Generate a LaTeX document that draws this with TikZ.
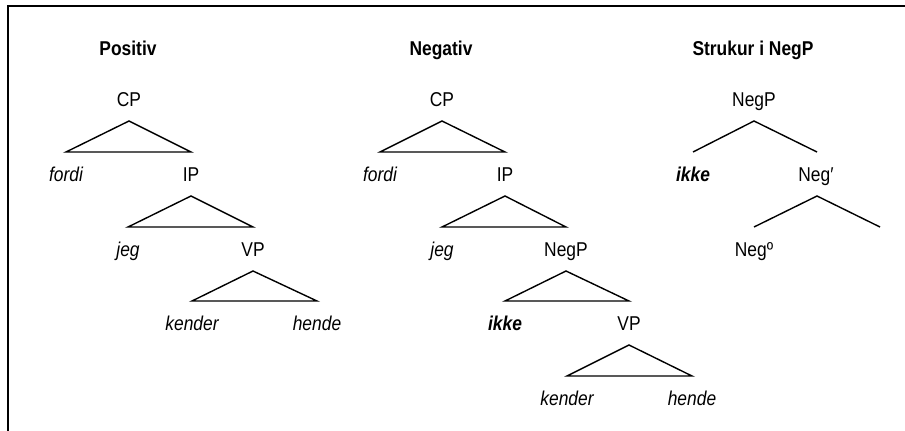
\documentclass[tikz,border=0pt]{standalone}
\usepackage{fontspec}
\setmainfont{Liberation Sans}[FakeStretch=0.87]
\usetikzlibrary{calc}
\tikzset{
  lbl/.style={anchor=base, inner sep=0pt, outer sep=0pt, text height=14pt, text depth=4pt, font=\fontsize{20}{24}\selectfont},
  ttl/.style={lbl, font=\fontsize{20}{24}\selectfont\bfseries},
  wrd/.style={lbl, font=\fontsize{20}{24}\selectfont\itshape},
  neg/.style={lbl, font=\fontsize{20}{24}\selectfont\bfseries\itshape},
  tri/.style={line width=1.4pt, line join=miter},
  frm/.style={line width=2.3pt}
}
\begin{document}
\begin{tikzpicture}[x=1pt,y=-1pt]
\useasboundingbox (0,0) rectangle (905,431);
\coordinate (fbl) at (8,431);
\coordinate (ftl) at (8,6);
\coordinate (ftr) at (906,6);
\draw[frm] (fbl) -- (ftl) -- (ftr);

% Positiv
\node[ttl] (t1) at (128,55) {Positiv};
\node[lbl] (cp1) at (129,106) {CP};
\node[wrd] (fordi1) at (66,181) {fordi};
\node[lbl] (ip1) at (191,181) {IP};
\node[wrd] (jeg1) at (128,256) {jeg};
\node[lbl] (vp1) at (253,256) {VP};
\node[wrd] (kender1) at (192,330) {kender};
\node[wrd] (hende1) at (317,330) {hende};
\draw[tri] ([yshift=-11pt]cp1.south) -- ([yshift=15pt]fordi1.north) -- ([yshift=15pt]ip1.north) -- cycle;
\draw[tri] ([yshift=-11pt]ip1.south) -- ([yshift=15pt]jeg1.north) -- ([yshift=15pt]vp1.north) -- cycle;
\draw[tri] ([yshift=-11pt]vp1.south) -- ([yshift=15pt]kender1.north) -- ([yshift=15pt]hende1.north) -- cycle;

% Negativ
\node[ttl] (t2) at (441,55) {Negativ};
\node[lbl] (cp2) at (442,106) {CP};
\node[wrd] (fordi2) at (380,181) {fordi};
\node[lbl] (ip2) at (505,181) {IP};
\node[wrd] (jeg2) at (442,256) {jeg};
\node[lbl] (negp2) at (566,256) {NegP};
\node[neg] (ikke2) at (505,330) {ikke};
\node[lbl] (vp2) at (629,330) {VP};
\node[wrd] (kender2) at (567,405) {kender};
\node[wrd] (hende2) at (692,405) {hende};
\draw[tri] ([yshift=-11pt]cp2.south) -- ([yshift=15pt]fordi2.north) -- ([yshift=15pt]ip2.north) -- cycle;
\draw[tri] ([yshift=-11pt]ip2.south) -- ([yshift=15pt]jeg2.north) -- ([yshift=15pt]negp2.north) -- cycle;
\draw[tri] ([yshift=-11pt]negp2.south) -- ([yshift=15pt]ikke2.north) -- ([yshift=15pt]vp2.north) -- cycle;
\draw[tri] ([yshift=-11pt]vp2.south) -- ([yshift=15pt]kender2.north) -- ([yshift=15pt]hende2.north) -- cycle;

% Strukur i NegP
\node[ttl] (t3) at (753,55) {Strukur i NegP};
\node[lbl] (negp3) at (754,106) {NegP};
\node[neg] (ikke3) at (693,181) {ikke};
\node[lbl] (negbar) at (816,181) {Neg′};
\node[lbl] (neg0) at (754,256) {Negº};
\coordinate (rfree) at (880,227);
\draw[tri] ([yshift=15pt]ikke3.north) -- ([yshift=-11pt]negp3.south) -- ([xshift=1pt,yshift=15pt]negbar.north);
\draw[tri] ([yshift=15pt]neg0.north) -- ([xshift=1pt,yshift=-11pt]negbar.south) -- (rfree);
\end{tikzpicture}
\end{document}
